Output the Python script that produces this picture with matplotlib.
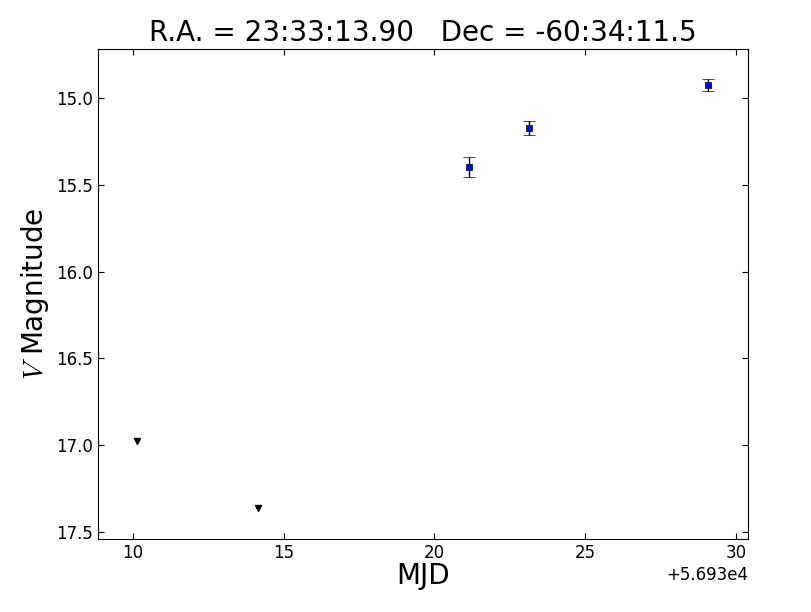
import matplotlib
matplotlib.use("Agg")
import matplotlib.pyplot as plt

det_mjd = [56951.14, 56953.13, 56959.07]
det_mag = [15.397, 15.173, 14.925]
det_err = [0.058, 0.040, 0.035]
lim_mjd = [56940.15, 56944.15]
lim_mag = [16.976, 17.362]

plt.rcParams['xtick.direction'] = 'in'
plt.rcParams['ytick.direction'] = 'in'
plt.rcParams['xtick.top'] = True
plt.rcParams['ytick.right'] = True
plt.rcParams['xtick.major.size'] = 4
plt.rcParams['ytick.major.size'] = 4
plt.rcParams['mathtext.fontset'] = 'cm'

fig = plt.figure(figsize=(8.12, 6.12), dpi=100)
ax = fig.add_axes([98/812, 1-539/612, 650/812, 490/612])
ax.errorbar(det_mjd, det_mag, yerr=det_err, fmt='s', color='blue', ms=4,
            mec='black', mew=0.5, ecolor='black', elinewidth=1, capsize=4)
ax.plot(lim_mjd, lim_mag, 'v', color='black', ms=4)
ax.set_xlim(56938.84, 56960.40)
ax.set_ylim(17.54, 14.718)
ax.set_yticks([15.0, 15.5, 16.0, 16.5, 17.0, 17.5])
ax.set_xticks([56940, 56945, 56950, 56955, 56960])
ax.ticklabel_format(axis='x', useOffset=56930, style='plain')
ax.tick_params(labelsize=12)
ax.xaxis.get_offset_text().set_fontsize(12)
ax.set_xlabel('MJD', fontsize=20, labelpad=0)
ax.set_ylabel('$V$ Magnitude', fontsize=20)
ax.set_title('R.A. = 23:33:13.90   Dec = -60:34:11.5', fontsize=20)
fig.savefig('out.png', dpi=100)
